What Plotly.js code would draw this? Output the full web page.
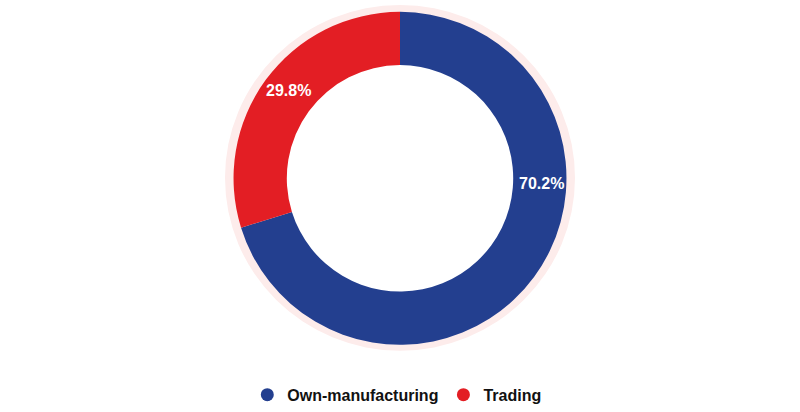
<!DOCTYPE html>
<html>
<head>
<meta charset="utf-8">
<script src="https://cdn.plot.ly/plotly-3.0.1.min.js"></script>
<style>html,body{margin:0;padding:0;background:#fff;}#chart{width:800px;height:412px;}</style>
</head>
<body>
<div id="chart"></div>
<script>
var categories = ["Own-manufacturing", "Trading"];
var values = [70.2, 29.8];
var colors = ["#233f8f", "#e31e24"];
var labelPos = [[0.677, 0.5485], [0.361, 0.7767]];

var total = values.reduce(function(a, b){ return a + b; }, 0);
var FONT = "Liberation Sans, Arial, sans-serif";

var traces = [{
  type: "pie",
  labels: categories,
  values: values,
  sort: false,
  direction: "clockwise",
  rotation: 0,
  hole: 0.68,
  textinfo: "none",
  hoverinfo: "label+percent",
  showlegend: false,
  marker: {colors: colors, line: {width: 0}},
  domain: {x: [0.29, 0.71], y: [0.1529, 0.9709]}
}];
categories.forEach(function(c, i){
  traces.push({
    type: "scatter", mode: "markers", name: c,
    x: [null], y: [null],
    marker: {color: colors[i], size: 13, symbol: "circle"},
    hoverinfo: "skip"
  });
});

var annotations = values.map(function(v, i){
  return {
    xref: "paper", yref: "paper",
    x: labelPos[i][0], y: labelPos[i][1],
    text: (v / total * 100).toFixed(1) + "%",
    showarrow: false,
    font: {family: FONT, size: 16, color: "#ffffff", weight: "bold"},
    xanchor: "center", yanchor: "middle"
  };
});

var layout = {
  width: 800, height: 412,
  margin: {l: 0, r: 0, t: 0, b: 0},
  paper_bgcolor: "#ffffff", plot_bgcolor: "#ffffff",
  xaxis: {visible: false, domain: [0, 1]},
  yaxis: {visible: false, domain: [0, 1]},
  showlegend: true,
  legend: {
    orientation: "h", x: 0.496, xanchor: "center", y: 0.03, yanchor: "middle",
    font: {family: FONT, size: 16, color: "#111111", weight: "bold"},
    itemclick: false, itemdoubleclick: false
  },
  shapes: [{
    type: "circle", xref: "paper", yref: "paper", layer: "below",
    x0: 0.28125, x1: 0.71875, y0: 0.1383, y1: 0.9879,
    fillcolor: "#fdeceb", line: {width: 0}
  }, {
    type: "circle", xref: "paper", yref: "paper", layer: "below",
    x0: (400 - 116) / 800, x1: (400 + 116) / 800,
    y0: 1 - (180 + 116) / 412, y1: 1 - (180 - 116) / 412,
    fillcolor: "#ffffff", line: {width: 0}
  }],
  annotations: annotations
};

Plotly.newPlot("chart", traces, layout, {displayModeBar: false, staticPlot: true});
</script>
</body>
</html>
